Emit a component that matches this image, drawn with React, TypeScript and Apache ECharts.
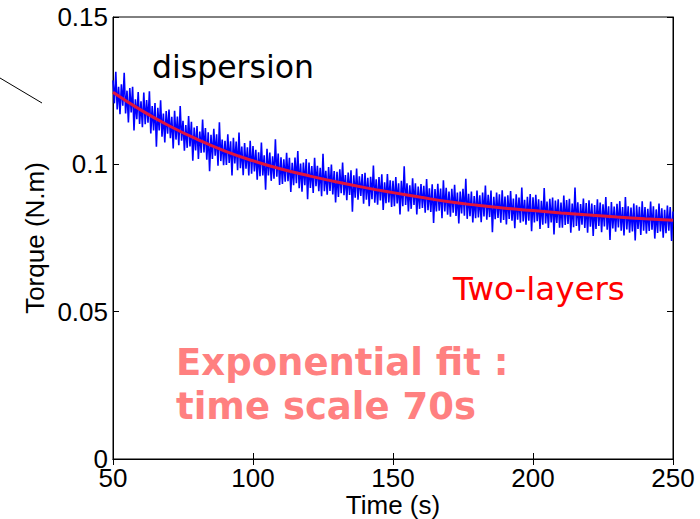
import React, { useEffect, useRef } from "react";
import * as echarts from "echarts";

// Sampling of the measured torque signal
const sampleStart = 50;
const sampleStep = 0.5;

// Measured torque (N.m), one value every 0.5 s from 50 s to 250 s
const noisyTorque = [
  0.1285,0.1207,0.1314,0.1186,0.1263,0.1170,0.1272,0.1199,0.1311,0.1173,0.1250,0.1142,0.1259,0.1176,0.1263,0.1115,0.1221,0.1153,0.1245,0.1137,
  0.1214,0.1126,0.1244,0.1136,0.1218,0.1141,0.1248,0.1105,0.1198,0.1115,0.1208,0.1060,0.1192,0.1115,0.1217,0.1094,0.1172,0.1074,0.1181,0.1104,
  0.1186,0.1089,0.1161,0.1054,0.1182,0.1084,0.1162,0.1065,0.1198,0.1080,0.1148,0.1046,0.1133,0.1056,0.1164,0.1061,0.1144,0.1012,0.1125,0.1047,
  0.1130,0.1018,0.1111,0.1039,0.1152,0.1040,0.1123,0.1016,0.1109,0.0977,0.1100,0.1018,0.1121,0.1029,0.1102,0.0995,0.1143,0.1011,0.1084,0.0997,
  0.1080,0.0998,0.1102,0.1005,0.1078,0.0962,0.1090,0.1003,0.1077,0.0980,0.1108,0.0987,0.1060,0.0963,0.1072,0.0985,0.1058,0.0962,0.1080,0.0968,
  0.1062,0.0976,0.1049,0.0948,0.1041,0.0960,0.1074,0.0962,0.1031,0.0914,0.1053,0.0962,0.1040,0.0944,0.1027,0.0951,0.1085,0.0958,0.1037,0.0930,
  0.1024,0.0933,0.1017,0.0941,0.1039,0.0943,0.1022,0.0906,0.1005,0.0929,0.1023,0.0936,0.1045,0.0919,0.1003,0.0907,0.1006,0.0929,0.1018,0.0882,
  0.1006,0.0920,0.0994,0.0903,0.1022,0.0926,0.0995,0.0909,0.0988,0.0892,0.1036,0.0909,0.0978,0.0897,0.0991,0.0910,0.0999,0.0898,0.0977,0.0871,
  0.0975,0.0889,0.0983,0.0902,0.1006,0.0895,0.0964,0.0878,0.0972,0.0896,0.0980,0.0839,0.0963,0.0887,0.0986,0.0880,0.0959,0.0893,0.0967,0.0866,
  0.0971,0.0880,0.0954,0.0858,0.0958,0.0882,0.0996,0.0870,0.0949,0.0863,0.0957,0.0877,0.0966,0.0845,0.0939,0.0868,0.0967,0.0871,0.0946,0.0855,
  0.0944,0.0858,0.0957,0.0867,0.0936,0.0830,0.0944,0.0858,0.0993,0.0862,0.0936,0.0840,0.0929,0.0849,0.0953,0.0862,0.0936,0.0830,0.0925,0.0849,
  0.0933,0.0852,0.0927,0.0836,0.0950,0.0844,0.0919,0.0838,0.0932,0.0801,0.0916,0.0840,0.0934,0.0843,0.0918,0.0817,0.0946,0.0840,0.0920,0.0829,
  0.0908,0.0822,0.0917,0.0836,0.0931,0.0825,0.0904,0.0799,0.0908,0.0833,0.0917,0.0826,0.0951,0.0815,0.0900,0.0824,0.0908,0.0803,0.0892,0.0817,
  0.0911,0.0820,0.0895,0.0804,0.0904,0.0823,0.0928,0.0812,0.0897,0.0821,0.0911,0.0770,0.0890,0.0814,0.0904,0.0818,0.0898,0.0802,0.0912,0.0811,
  0.0891,0.0796,0.0895,0.0815,0.0909,0.0809,0.0884,0.0783,0.0898,0.0812,0.0887,0.0802,0.0921,0.0806,0.0880,0.0795,0.0890,0.0809,0.0899,0.0773,
  0.0888,0.0803,0.0897,0.0807,0.0881,0.0781,0.0876,0.0795,0.0920,0.0799,0.0874,0.0784,0.0883,0.0803,0.0887,0.0762,0.0877,0.0801,0.0881,0.0785,
  0.0870,0.0785,0.0894,0.0794,0.0879,0.0798,0.0883,0.0768,0.0867,0.0787,0.0921,0.0791,0.0871,0.0775,0.0865,0.0795,0.0884,0.0784,0.0869,0.0768,
  0.0878,0.0788,0.0867,0.0757,0.0862,0.0781,0.0881,0.0791,0.0870,0.0770,0.0864,0.0789,0.0889,0.0778,0.0858,0.0743,0.0872,0.0782,0.0857,0.0771,
  0.0866,0.0786,0.0875,0.0775,0.0855,0.0759,0.0889,0.0779,0.0858,0.0768,0.0853,0.0772,0.0867,0.0742,0.0861,0.0781,0.0856,0.0760,0.0875,0.0775,
  0.0855,0.0765,0.0849,0.0774,0.0874,0.0778,0.0858,0.0748,0.0847,0.0767,0.0867,0.0772,0.0851,0.0751,0.0846,0.0766,0.0860,0.0775,0.0855,0.0740,0.0840,
];

// Exponential fit (time s, torque N.m)
const fitTimes = [50, 60, 70, 80, 90, 100, 110, 120, 130, 140, 150, 160, 170, 180, 190, 200, 210, 220, 230, 240, 250];
const fitTorque = [
  0.1245, 0.1184, 0.1131, 0.1085, 0.1045, 0.1012, 0.0984, 0.0961, 0.0940, 0.0921, 0.0904,
  0.0888, 0.0873, 0.0861, 0.0851, 0.0843, 0.0835, 0.0828, 0.0821, 0.0815, 0.0810,
];

const xTicks = [50, 100, 150, 200, 250];
const yTicks = [0, 0.05, 0.1, 0.15];

const axisFont = "Liberation Sans, Arial, Helvetica, sans-serif";
const noteFont = "DejaVu Sans, sans-serif";

export default function App() {
  const ref = useRef<HTMLDivElement>(null);

  useEffect(() => {
    if (!ref.current) return;
    const chart = echarts.init(ref.current, undefined, { renderer: "svg" });

    const noisyData = noisyTorque.map((v, i) => [sampleStart + i * sampleStep, v]);
    const fitData = fitTimes.map((t, i) => [t, fitTorque[i]]);

    const xMin = xTicks[0];
    const xMax = xTicks[xTicks.length - 1];
    const xInt = xTicks[1] - xTicks[0];
    const yMin = yTicks[0];
    const yMax = yTicks[yTicks.length - 1];
    const yInt = yTicks[1] - yTicks[0];

    const tickStyle = { show: true, inside: true, length: 6, lineStyle: { color: "#000", width: 1 } };
    const lineStyle = { lineStyle: { color: "#000", width: 1 } };
    const labelStyle = { color: "#000", fontSize: 26, fontFamily: axisFont };

    chart.setOption({
      animation: false,
      backgroundColor: "#fff",
      grid: {
        left: 113, top: 17, right: 27, bottom: 60,
        containLabel: false, outerBoundsMode: "none",
        show: true, borderColor: "#000", borderWidth: 1, backgroundColor: "transparent",
      },
      xAxis: [
        {
          type: "value",
          min: xMin,
          max: xMax,
          interval: xInt,
          position: "bottom",
          name: "Time (s)",
          nameLocation: "middle",
          nameGap: 35,
          nameMoveOverlap: false,
          nameTextStyle: { color: "#000", fontSize: 26, lineHeight: 22, fontFamily: axisFont },
          axisLine: { show: true, ...lineStyle },
          axisTick: tickStyle,
          axisLabel: { ...labelStyle, margin: 6 },
          splitLine: { show: false },
        },
        {
          type: "value",
          min: xMin,
          max: xMax,
          interval: xInt,
          position: "top",
          axisLine: { show: true, ...lineStyle },
          axisTick: tickStyle,
          axisLabel: { show: false },
          splitLine: { show: false },
        },
      ],
      yAxis: [
        {
          type: "value",
          min: yMin,
          max: yMax,
          interval: yInt,
          position: "left",
          name: "Torque (N.m)",
          nameLocation: "middle",
          nameGap: 65,
          nameMoveOverlap: false,
          nameTextStyle: { color: "#000", fontSize: 26, fontFamily: axisFont },
          axisLine: { show: true, ...lineStyle },
          axisTick: tickStyle,
          axisLabel: { ...labelStyle, margin: 5 },
          splitLine: { show: false },
        },
        {
          type: "value",
          min: yMin,
          max: yMax,
          interval: yInt,
          position: "right",
          axisLine: { show: true, ...lineStyle },
          axisTick: tickStyle,
          axisLabel: { show: false },
          splitLine: { show: false },
        },
      ],
      series: [
        {
          name: "dispersion",
          type: "line",
          data: noisyData,
          showSymbol: false,
          symbol: "none",
          lineStyle: { color: "#0000ff", width: 1.6 },
          itemStyle: { color: "#0000ff" },
          z: 2,
        },
        {
          name: "fit",
          type: "line",
          data: fitData,
          smooth: true,
          showSymbol: false,
          symbol: "none",
          lineStyle: { color: "#e0143c", width: 3 },
          itemStyle: { color: "#e0143c" },
          z: 3,
        },
      ],
      graphic: [
        {
          type: "line",
          shape: { x1: 0, y1: 78, x2: 42, y2: 103 },
          style: { stroke: "#000", lineWidth: 1 },
        },
        {
          type: "text",
          x: 152,
          y: 67,
          style: { text: "dispersion", fill: "#000", font: `31.5px ${noteFont}`, verticalAlign: "middle", align: "left" },
          z: 10,
        },
        {
          type: "text",
          x: 453,
          y: 289,
          style: { text: "Two-layers", fill: "#ff0000", font: `32.5px ${noteFont}`, verticalAlign: "middle", align: "left" },
          z: 10,
        },
        {
          type: "text",
          x: 176,
          y: 362,
          style: { text: "Exponential fit :", fill: "#ff8080", font: `bold 37px ${noteFont}`, verticalAlign: "middle", align: "left" },
          z: 10,
        },
        {
          type: "text",
          x: 176,
          y: 406,
          style: { text: "time scale 70s", fill: "#ff8080", font: `bold 37px ${noteFont}`, verticalAlign: "middle", align: "left" },
          z: 10,
        },
      ],
    });

    return () => chart.dispose();
  }, []);

  return <div ref={ref} style={{ position: "fixed", left: 0, top: 0, width: 700, height: 519 }} />;
}
